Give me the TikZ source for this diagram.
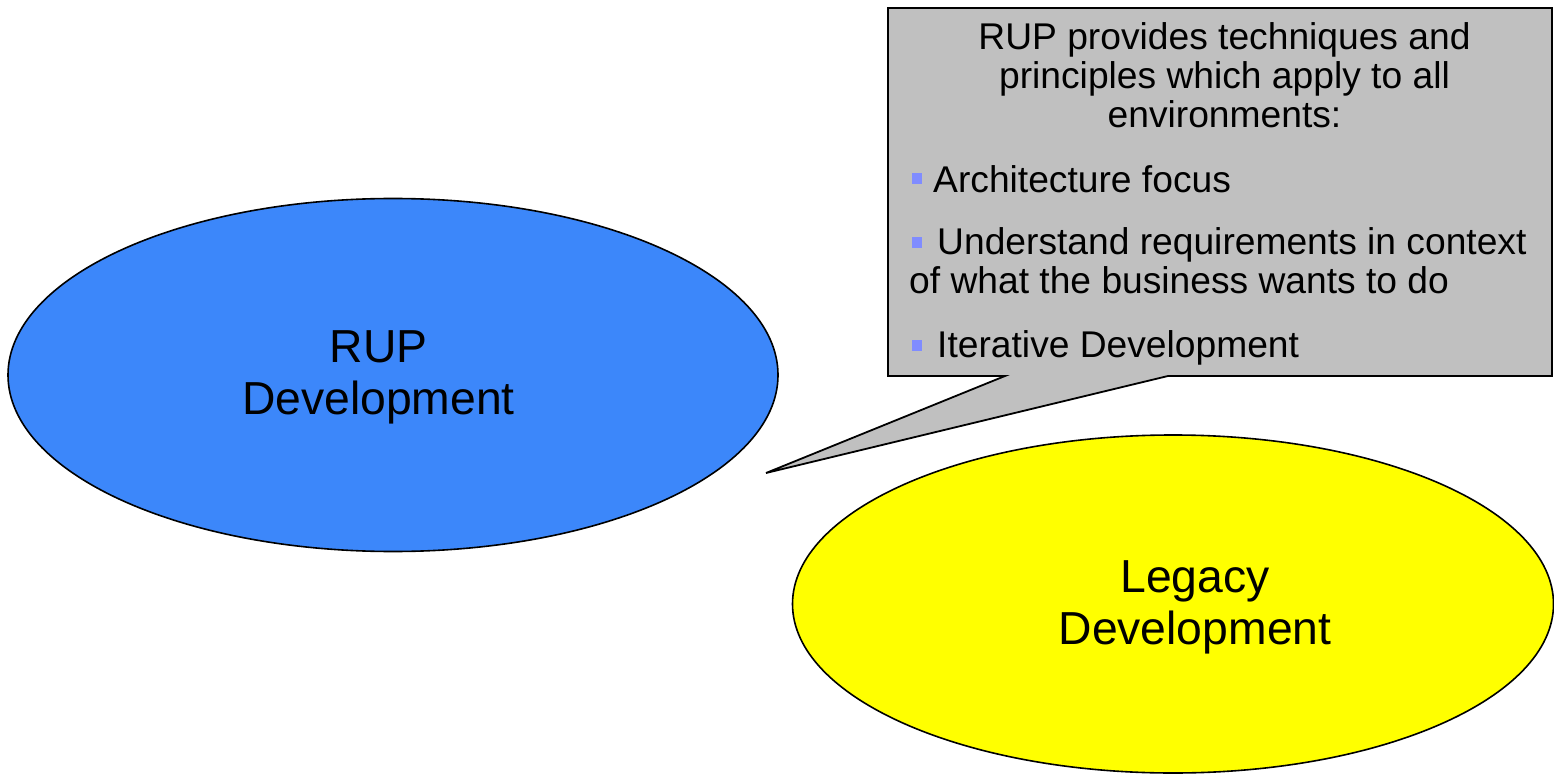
\documentclass[tikz,border=0pt]{standalone}
\usepackage{fontspec}
\setmainfont{Liberation Sans}
\usetikzlibrary{shapes.geometric}
\definecolor{rupblue}{RGB}{60,135,250}
\definecolor{legyellow}{RGB}{255,255,0}
\definecolor{calloutgray}{RGB}{192,192,192}
\definecolor{bulletblue}{RGB}{128,140,255}
\tikzset{
  bubble/.style={ellipse, draw=black, line width=1.6pt, inner sep=0pt},
  bubbletext/.style={inner sep=0pt, font=\fontsize{46.3}{52}\selectfont},
  calloutshape/.style={draw=black, line width=1.8pt, fill=calloutgray, line join=miter},
  calltext/.style={inner sep=0pt, font=\fontsize{37.2}{40}\selectfont},
  bulletbox/.style={fill=bulletblue, draw=none, minimum width=10.5pt, minimum height=11pt, inner sep=0pt}
}
\begin{document}
\begin{tikzpicture}[x=1pt,y=-1pt]
\useasboundingbox (0,0) rectangle (1554,775);
% ellipses
\node[bubble, fill=rupblue, minimum width=770pt, minimum height=353pt] (rup) at (393,375) {};
\node[bubbletext, anchor=base] (rup1) at (378.5,362) {RUP};
\node[bubbletext, anchor=base] (rup2) at (378.5,414) {Development};
\node[bubble, fill=legyellow, minimum width=761pt, minimum height=338pt] (legacy) at (1173,604) {};
\node[bubbletext, anchor=base] (leg1) at (1195,592) {Legacy};
\node[bubbletext, anchor=base] (leg2) at (1195,644) {Development};
% callout
\coordinate (tip) at (766,473);
\draw[calloutshape] (888,8) -- (1552,8) -- (1552,376) -- (1168,376) -- (tip) -- (1005,376) -- (888,376) -- cycle;
% header text
\node[calltext, anchor=base] (h1) at (1224.5,49.5) {RUP provides techniques and};
\node[calltext, anchor=base] (h2) at (1224.5,88.5) {principles which apply to all};
\node[calltext, anchor=base] (h3) at (1224.5,128) {environments:};
% bullets
\node[bulletbox] (b1) at (917,179) {};
\node[calltext, anchor=base west] (t1) at (933,192.5) {Architecture focus};
\node[bulletbox] (b2) at (917,243) {};
\node[calltext, anchor=base west] (t2) at (937,255) {Understand requirements in context};
\node[calltext, anchor=base west] (t2b) at (909,294) {of what the business wants to do};
\node[bulletbox] (b3) at (917,345.5) {};
\node[calltext, anchor=base west] (t3) at (937,357.5) {Iterative Development};
\end{tikzpicture}
\end{document}
